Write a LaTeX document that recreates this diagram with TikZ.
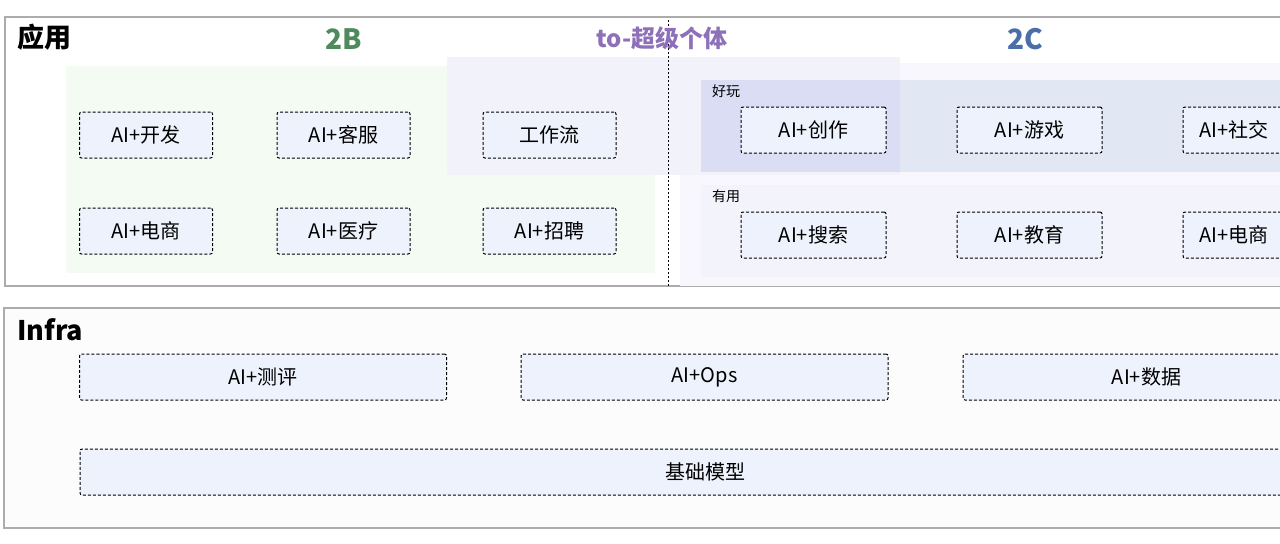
\documentclass[tikz,border=0pt]{standalone}
\usepackage{fontspec}
\setmainfont{Noto Sans CJK SC}
\usetikzlibrary{positioning}

\definecolor{frameGray}{RGB}{172,172,172}
\definecolor{boxBlue}{RGB}{238,242,252}
\definecolor{bGreen}{RGB}{244,251,243}
\definecolor{cLavender}{RGB}{247,247,253}
\definecolor{funBand}{RGB}{226,231,244}
\definecolor{funSolo}{RGB}{219,221,245}
\definecolor{useBand}{RGB}{243,243,252}
\definecolor{soloPurple}{RGB}{242,242,251}
\definecolor{infraBg}{RGB}{252,252,252}
\definecolor{titleGreen}{RGB}{78,138,92}
\definecolor{titlePurple}{RGB}{142,112,186}
\definecolor{titleBlue}{RGB}{74,111,168}

\begin{document}
\begin{tikzpicture}[x=0.5pt, y=-0.5pt, node distance=1cm, on grid,
                    every box/.style = {fill=boxBlue},
                    box/.style = {rectangle, draw=black, line width=0.5pt, dash pattern=on 1.5pt off 1pt,
                            rounded corners=1pt, minimum width=66.5pt, minimum height=23pt,
                            font=\fontsize{10}{12}\selectfont, every box},
                    c box/.style = {box, minimum width=72.5pt},
                    infra box/.style = {box, minimum width=183.5pt},
                    layer title/.style = {anchor=west, font=\fontsize{13.5}{16}\selectfont\bfseries},
                    group title/.style = {font=\fontsize{14}{16}\selectfont\bfseries},
                    band label/.style = {anchor=west, font=\fontsize{7}{8}\selectfont} ]

                \useasboundingbox (0,0) rectangle (1280,543);
                \clip (0,0) rectangle (1280,543);

                % frames
                \draw [frameGray, line width=0.6pt, fill=white] (5,17) rectangle (1320,286);
                \draw [frameGray, line width=0.6pt, fill=infraBg] (4,308) rectangle (1320,528);

                % areas
                \fill [cLavender] (680,63) rectangle (1320,286);
                \fill [bGreen] (66,66) rectangle (655,273);
                \fill [soloPurple] (447,57) rectangle (900,175);
                \fill [useBand] (701,185) rectangle (1320,277);
                \fill [funBand] (701,80) rectangle (1320,172);
                \fill [funSolo] (701,80) rectangle (900,172);
                \draw [line width=0.5pt, dash pattern=on 1pt off 1pt] (668,20) -- (668,286);

                % titles
                \node [layer title] (app) at (10,37) {应用};
                \node [group title, text=titleGreen] (tob) at (344,39) {2B};
                \node [group title, text=titlePurple, font=\fontsize{12}{14}\selectfont\bfseries] (solo) at (662,38) {to-超级个体};
                \node [group title, text=titleBlue] (toc) at (1025,39) {2C};
                \node [band label] (fun) at (705,91) {好玩};
                \node [band label] (useful) at (705,196) {有用};

                % 2B
                \node [box] (dev) at (146,135) {AI+开发};
                \node [box] (service) at (343.5,135) {AI+客服};
                \node [box] (flow) at (549.5,135) {工作流};
                \node [box] (shop) [below=48pt of dev] {AI+电商};
                \node [box] (health) [below=48pt of service] {AI+医疗};
                \node [box] (hire) [below=48pt of flow] {AI+招聘};

                % 2C
                \node [c box] (create) at (813.5,130) {AI+创作};
                \node [c box] (game) at (1029.5,130) {AI+游戏};
                \node [c box, inner xsep=8pt, text width=56.5pt, align=left] (social) at (1255.5,130) {AI+社交};
                \node [c box] (search) [below=52.5pt of create] {AI+搜索};
                \node [c box] (edu) [below=52.5pt of game] {AI+教育};
                \node [c box, inner xsep=8pt, text width=56.5pt, align=left] (cshop) [below=52.5pt of social] {AI+电商};

                % infra
                \node [layer title] (infra) at (10,330) {Infra};
                \node [infra box] (eval) at (263,377) {AI+测评};
                \node [infra box] (ops) at (704.5,377) {AI+Ops};
                \node [infra box] (data) at (1146.5,377) {AI+数据};
                \node [box, minimum width=625pt] (base) at (705,472) {基础模型};

            \end{tikzpicture}
\end{document}
